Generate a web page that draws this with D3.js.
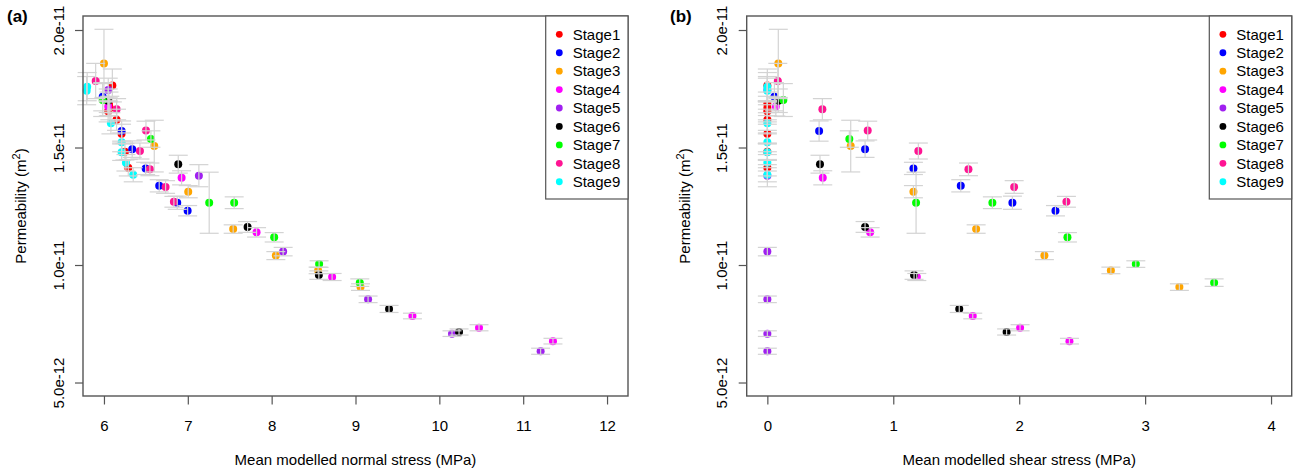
<!DOCTYPE html>
<html>
<head>
<meta charset="utf-8">
<script src="https://cdn.jsdelivr.net/npm/d3@7"></script>
<style>
  html, body { margin: 0; padding: 0; background: #fff; }
  svg { display: block; font-family: "Liberation Sans", Arial, Helvetica, sans-serif; }
</style>
</head>
<body>
<svg id="chart" width="1293" height="474"></svg>
<script>
// Stages and their plotting colours
const stageNames = ["Stage1", "Stage2", "Stage3", "Stage4", "Stage5", "Stage6", "Stage7", "Stage8", "Stage9"];
const stageColors = ["#FF0000", "#0000FF", "#FFA500", "#FF00FF", "#A020F0", "#000000", "#00FF00", "#FF1493", "#00FFFF"];

// Mean modelled normal stress (MPa), one list per stage
const normalStress = [
  [6.10, 6.06, 6.07, 6.05, 6.15, 6.21, 6.25, 6.29],
  [5.985, 6.211, 6.337, 6.497, 6.659, 6.874, 6.998],
  [6.00, 6.60, 7.005, 7.541, 8.05, 8.554, 9.06],
  [6.051, 6.926, 7.820, 8.721, 9.679, 10.473, 11.355],
  [6.051, 7.132, 8.137, 9.150, 10.151, 11.208],
  [6.051, 6.886, 7.713, 8.563, 9.400, 10.235],
  [5.985, 6.560, 7.255, 7.553, 8.030, 8.566, 9.051],
  [5.901, 6.151, 6.501, 6.429, 6.548, 6.735, 6.834],
  [5.80, 5.794, 6.083, 6.211, 6.211, 6.262, 6.349]
];

// Mean modelled shear stress (MPa), one list per stage
const shearStress = [
  [0, 0, 0, 0, 0, 0, 0, 0],
  [0.056, 0.411, 0.776, 1.160, 1.536, 1.946, 2.288],
  [0.087, 0.662, 1.160, 1.658, 2.20, 2.728, 3.272],
  [0.067, 0.440, 0.816, 1.187, 1.631, 2.007, 2.399],
  [0, 0, 0, 0, 0, 0],
  [0.087, 0.418, 0.776, 1.165, 1.524, 1.900],
  [0.127, 0.651, 1.181, 1.787, 2.383, 2.926, 3.548],
  [0.083, 0.437, 0.797, 1.199, 1.597, 1.960, 2.375],
  [0, 0, 0, 0, 0, 0, 0]
];

// Permeability, in units of 1e-11 m^2
const permeability = [
  [1.764, 1.686, 1.668, 1.654, 1.618, 1.559, 1.482, 1.414],
  [1.716, 1.570, 1.493, 1.411, 1.337, 1.265, 1.231],
  [1.858, 1.506, 1.312, 1.153, 1.040, 0.977, 0.906],
  [1.674, 1.371, 1.139, 0.949, 0.783, 0.733, 0.676],
  [1.745, 1.380, 1.057, 0.854, 0.708, 0.633],
  [1.699, 1.429, 1.162, 0.957, 0.813, 0.715],
  [1.702, 1.536, 1.265, 1.265, 1.118, 1.004, 0.925],
  [1.783, 1.663, 1.572, 1.485, 1.407, 1.332, 1.269],
  [1.759, 1.742, 1.603, 1.522, 1.480, 1.435, 1.384]
];

// Standard deviation of permeability, in units of 1e-11 m^2
const permeabilitySD = [
  [0.07, 0.05, 0.05, 0.045, 0.045, 0.04, 0.035, 0.035],
  [0.06, 0.043, 0.035, 0.026, 0.026, 0.028, 0.022],
  [0.145, 0.11, 0.026, 0.018, 0.017, 0.014, 0.014],
  [0.04, 0.03, 0.02, 0.015, 0.012, 0.013, 0.012],
  [0.05, 0.047, 0.018, 0.014, 0.012, 0.013],
  [0.05, 0.038, 0.023, 0.018, 0.015, 0.013],
  [0.07, 0.035, 0.13, 0.025, 0.02, 0.014, 0.016],
  [0.075, 0.045, 0.04, 0.034, 0.027, 0.027, 0.023],
  [0.06, 0.06, 0.045, 0.04, 0.035, 0.035, 0.03]
];

const permUnit = 1e-11;

// Axis ticks
const yTickValues = [5e-12, 1e-11, 1.5e-11, 2e-11];
const yTickLabels = ["5.0e-12", "1.0e-11", "1.5e-11", "2.0e-11"];
const normalTicks = [6, 7, 8, 9, 10, 11, 12];
const shearTicks = [0, 1, 2, 3, 4];

// Build one flat table of observations
const rows = [];
stageNames.forEach((name, s) => {
  permeability[s].forEach((p, i) => {
    rows.push({
      stage: s,
      normal: normalStress[s][i],
      shear: shearStress[s][i],
      perm: p * permUnit,
      sd: permeabilitySD[s][i] * permUnit
    });
  });
});

const svg = d3.select("#chart");
const plotTop = 16, plotBottom = 396;
const frameColor = "#555";
const errColor = "#d3d3d3";
const fontSize = 15;

const yScale = d3.scaleLinear().domain([0.4426e-11, 2.0596e-11]).range([plotBottom, plotTop]);

const panels = [
  { tag: "(a)", tagX: 7, left: 83, right: 628, xDomain: [5.75, 12.25], xTicks: normalTicks,
    xKey: "normal", xTitle: "Mean modelled normal stress (MPa)", legendLeft: 545.7 },
  { tag: "(b)", tagX: 670, left: 746.7, right: 1291.7, xDomain: [-0.164, 4.164], xTicks: shearTicks,
    xKey: "shear", xTitle: "Mean modelled shear stress (MPa)", legendLeft: 1209.3 }
];

panels.forEach(p => {
  const g = svg.append("g");
  const xScale = d3.scaleLinear().domain(p.xDomain).range([p.left, p.right]);

  // Points, drawn stage by stage
  g.append("g").selectAll("circle")
    .data(rows)
    .join("circle")
    .attr("cx", d => xScale(d[p.xKey]))
    .attr("cy", d => yScale(d.perm))
    .attr("r", 4)
    .attr("fill", d => stageColors[d.stage]);

  // Permeability error bars with caps, over the points
  const capHalf = 9.5;
  const eb = g.append("g").attr("stroke", errColor).attr("stroke-width", 1.2).attr("fill", "none");
  rows.forEach(d => {
    const cx = xScale(d[p.xKey]);
    const y1 = yScale(d.perm - d.sd), y2 = yScale(d.perm + d.sd);
    eb.append("line").attr("x1", cx).attr("x2", cx).attr("y1", y1).attr("y2", y2);
    eb.append("line").attr("x1", cx - capHalf).attr("x2", cx + capHalf).attr("y1", y1).attr("y2", y1);
    eb.append("line").attr("x1", cx - capHalf).attr("x2", cx + capHalf).attr("y1", y2).attr("y2", y2);
  });

  // Frame
  g.append("rect")
    .attr("x", p.left).attr("y", plotTop)
    .attr("width", p.right - p.left).attr("height", plotBottom - plotTop)
    .attr("fill", "none").attr("stroke", frameColor).attr("stroke-width", 1.4);

  // X axis
  const xAxis = g.append("g")
    .attr("transform", `translate(0,${plotBottom})`)
    .call(d3.axisBottom(xScale).tickValues(p.xTicks).tickFormat(d3.format("d")).tickSize(8.5).tickSizeOuter(0));
  xAxis.select(".domain").remove();
  xAxis.selectAll(".tick line").attr("stroke", frameColor).attr("stroke-width", 1.2);
  xAxis.selectAll(".tick text")
    .attr("y", 35).attr("dy", 0)
    .attr("font-size", fontSize).attr("fill", "#000");
  xAxis.attr("font-family", null).attr("font-size", null);

  // Y axis with rotated labels
  const yAxis = g.append("g")
    .attr("transform", `translate(${p.left},0)`)
    .call(d3.axisLeft(yScale).tickValues(yTickValues)
      .tickFormat((d, i) => yTickLabels[i]).tickSize(8).tickSizeOuter(0));
  yAxis.select(".domain").remove();
  yAxis.selectAll(".tick line").attr("stroke", frameColor).attr("stroke-width", 1.2);
  yAxis.selectAll(".tick text")
    .attr("transform", "rotate(-90)")
    .attr("x", 0).attr("y", -19.5).attr("dy", 0)
    .attr("text-anchor", "middle")
    .attr("font-size", fontSize).attr("fill", "#000");
  yAxis.attr("font-family", null).attr("font-size", null);

  // Axis titles
  g.append("text")
    .attr("x", (p.left + p.right) / 2).attr("y", 465)
    .attr("text-anchor", "middle").attr("font-size", fontSize)
    .text(p.xTitle);

  const yTitle = g.append("text")
    .attr("transform", `translate(${p.left - 57},${(plotTop + plotBottom) / 2}) rotate(-90)`)
    .attr("text-anchor", "middle").attr("font-size", fontSize);
  yTitle.append("tspan").text("Permeability (m");
  yTitle.append("tspan").attr("font-size", 11).attr("dy", -6).text("2");
  yTitle.append("tspan").attr("dy", 6).text(")");

  // Panel tag
  g.append("text")
    .attr("x", p.tagX).attr("y", 22)
    .attr("font-size", 17).attr("font-weight", "bold")
    .text(p.tag);

  // Legend
  const lg = g.append("g");
  lg.append("rect")
    .attr("x", p.legendLeft).attr("y", plotTop)
    .attr("width", p.right - p.legendLeft).attr("height", 199 - plotTop)
    .attr("fill", "#fff").attr("stroke", frameColor).attr("stroke-width", 1.2);
  const rowY = i => 34.3 + i * 18.43;
  lg.selectAll("circle.key")
    .data(stageNames)
    .join("circle")
    .attr("class", "key")
    .attr("cx", p.legendLeft + 13.6)
    .attr("cy", (d, i) => rowY(i))
    .attr("r", 3.4)
    .attr("fill", (d, i) => stageColors[i]);
  lg.selectAll("text.key")
    .data(stageNames)
    .join("text")
    .attr("class", "key")
    .attr("x", p.legendLeft + 27)
    .attr("y", (d, i) => rowY(i) + 5.3)
    .attr("font-size", fontSize)
    .text(d => d);
});
</script>
</body>
</html>
